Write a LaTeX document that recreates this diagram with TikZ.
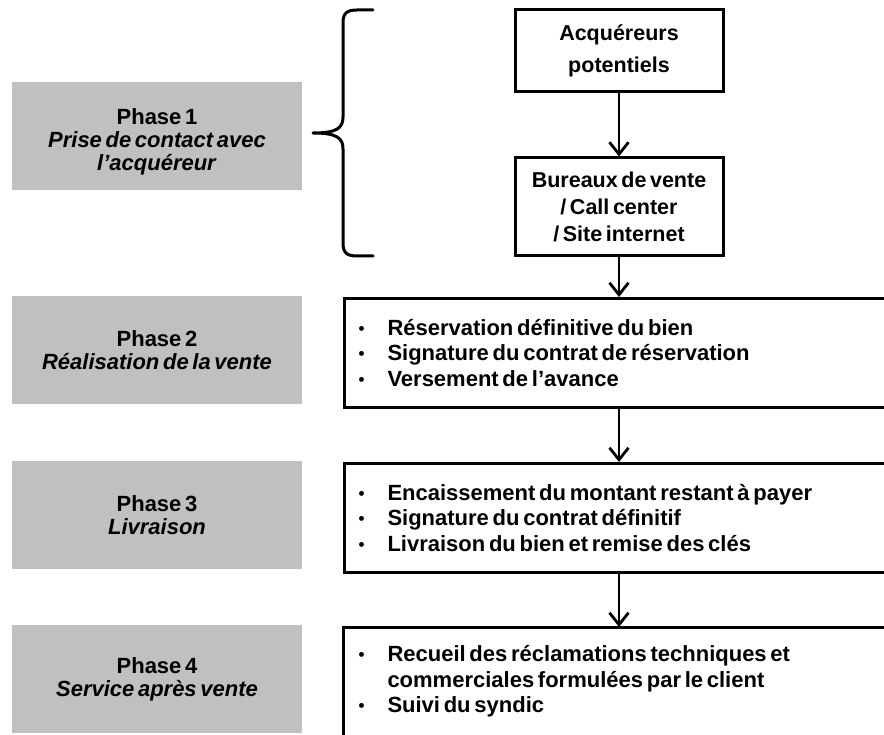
\documentclass[tikz,border=0pt]{standalone}
\usepackage{fontspec}
\setmainfont{Liberation Sans}[WordSpace=0.6]
\usetikzlibrary{arrows.meta}
\definecolor{phasegray}{RGB}{192,192,192}

\newcommand{\itembul}{\makebox[29pt][l]{\raisebox{1pt}{\fontsize{17}{17}\selectfont\textbullet}}}
\newcommand{\itemcont}{\hspace*{29pt}}
\newcommand{\tightwords}{\spaceskip=0.17em plus 0.05em\relax}

\begin{document}
\begin{tikzpicture}[x=1pt,y=-1pt,
  phasefont/.style={font=\bfseries\fontsize{22}{23}\selectfont},
  phase/.style={fill=phasegray, draw=none, minimum width=290pt, minimum height=108pt,
    inner sep=0pt, align=center, phasefont},
  flowbox/.style={draw, line width=3pt, minimum width=208pt, align=center,
    inner sep=0pt, font=\bfseries\fontsize{21.5}{27}\selectfont},
  boxline/.style={line width=3pt},
  stepbox/.style={draw, boxline, minimum height=109pt, text width=522pt,
    inner xsep=14pt, inner ysep=0pt, align=left, font=\bfseries\fontsize{22}{25.5}\selectfont},
  flow/.style={line width=2.8pt, -{Straight Barb[length=12pt,width=19pt]}},
  bracket/.style={line width=3pt, line cap=round, line join=round}
]
\useasboundingbox (0,0) rectangle (884,735);
\clip (0,0) rectangle (884,735);

% phase labels
\node[phase] (ph1) at (157,136.5) {};
\node[align=center, inner sep=0pt, phasefont] (ph1text) at (157,141.5) {Phase 1\\ \textit{Prise de contact avec}\\ \textit{l’acquéreur}};
\node[phase] (ph2) at (157,350) {Phase 2\\ \textit{Réalisation de la vente}};
\node[phase] (ph3) at (157,515) {Phase 3\\ \textit{Livraison}};
\node[phase] (ph4) at (157,679) {Phase 4\\ \textit{Service après vente}};

% first phase: two small boxes
\node[flowbox, minimum height=82pt, font=\bfseries\fontsize{21.5}{32}\selectfont] (acq) at (619,51) {Acquéreurs\\ potentiels};
\node[flowbox, minimum height=98pt] (bur) at (619,207) {Bureaux de vente\\ / Call center\\ / Site internet};

% phase contents
\node[stepbox, anchor=north west] (st2) at (343,297) {\tightwords\itembul Réservation définitive du bien\\
  \itembul Signature du contrat de réservation\\
  \itembul Versement de l’avance};
\node[stepbox, anchor=north west] (st3) at (343,462) {\tightwords\itembul Encaissement du montant restant à payer\\
  \itembul Signature du contrat définitif\\
  \itembul Livraison du bien et remise des clés};
\node[stepbox, draw=none, anchor=north west, minimum height=106pt] (st4) at (343,627) {\tightwords\itembul Recueil des réclamations techniques et\\
  \itemcont commerciales formulées par le client\\
  \itembul Suivi du syndic};
% last box runs past the lower and right edges
\draw[boxline] (st4.south west) ++(0,20) -- (st4.north west) -- ++(560,0);

% brace grouping phase 1
\draw[bracket] (373,10) -- (357,10) .. controls (347,10) and (343,13) .. (343,23)
  -- (343,117) .. controls (343,128) and (337,133) .. (313,133)
  .. controls (337,133) and (343,138) .. (343,149)
  -- (343,243) .. controls (343,253) and (347,256) .. (357,256) -- (373,256);

% flow arrows
\draw[flow] (acq.south) -- (bur.north);
\draw[flow] (bur.south) -- (bur.south |- st2.north);
\draw[flow] (st2.south -| bur.south) -- (st3.north -| bur.south);
\draw[flow] (st3.south -| bur.south) -- (st4.north -| bur.south);
\end{tikzpicture}
\end{document}
